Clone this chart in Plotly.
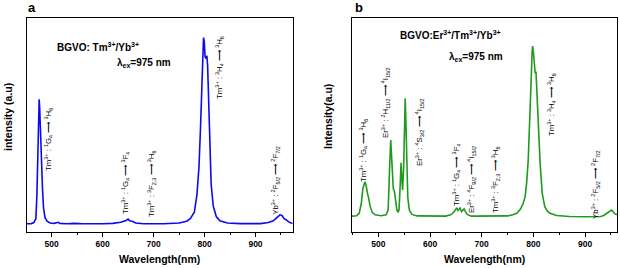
import plotly.graph_objects as go

# ---- data (wavelength nm, intensity a.u.) ----
wl_a = [451, 460, 465, 469, 471, 473, 474.5, 475.5, 476.5, 478, 480, 482, 484, 487, 491, 497,
        505, 510, 513, 516, 530, 545, 550, 560, 600, 620, 635, 645, 650, 653, 658, 665, 680,
        720, 750, 765, 772, 780, 785, 789, 792, 795, 797, 798, 799.5, 801, 803, 804.5, 806,
        808, 810, 813, 817, 823, 830, 845, 870, 910, 925, 935, 942, 948, 952, 956, 960, 965, 970, 973]
int_a = [0.036, 0.037, 0.042, 0.06, 0.17, 0.42, 0.58, 0.619, 0.58, 0.46, 0.33, 0.2, 0.11, 0.065, 0.048, 0.04,
         0.038, 0.04, 0.043, 0.038, 0.036, 0.038, 0.037, 0.036, 0.036, 0.038, 0.043, 0.05, 0.058, 0.05, 0.048, 0.04, 0.036,
         0.036, 0.04, 0.048, 0.06, 0.09, 0.17, 0.3, 0.48, 0.72, 0.87, 0.908, 0.89, 0.82, 0.81, 0.823, 0.78,
         0.6, 0.42, 0.22, 0.12, 0.07, 0.05, 0.04, 0.037, 0.037, 0.042, 0.05, 0.065, 0.078, 0.075, 0.06, 0.055, 0.045, 0.04, 0.038]

wl_b = [449, 458, 463, 467, 470, 472, 474, 476, 477, 479, 481, 484, 488, 494, 505, 515, 519, 521, 522.5,
        524, 525.5, 527, 529, 531, 533, 536, 538, 540, 542, 544, 545.5, 547, 549, 550.5, 552, 553.5,
        555, 557, 560, 565, 575, 600, 630, 640, 646, 650, 652, 654, 656, 658, 661, 664, 666, 668, 672,
        680, 720, 750, 760, 768, 775, 780, 784, 787, 790, 793, 795.5, 797.5, 798.6, 800, 802, 803.5,
        805, 807, 810, 813, 817, 822, 827, 832, 845, 870, 900, 930, 936, 942, 947, 951, 955, 958, 962]
int_b = [0.072, 0.074, 0.085, 0.13, 0.2, 0.225, 0.233, 0.22, 0.2, 0.18, 0.16, 0.12, 0.09, 0.078, 0.074, 0.078, 0.1, 0.2, 0.34,
         0.428, 0.36, 0.24, 0.2, 0.19, 0.14, 0.1, 0.092, 0.1, 0.2, 0.322, 0.25, 0.194, 0.3, 0.5, 0.624, 0.5,
         0.3, 0.16, 0.1, 0.08, 0.073, 0.071, 0.072, 0.078, 0.09, 0.105, 0.109, 0.098, 0.104, 0.11, 0.093, 0.1, 0.106, 0.095, 0.08,
         0.072, 0.071, 0.073, 0.078, 0.085, 0.105, 0.13, 0.163, 0.23, 0.335, 0.5, 0.7, 0.84, 0.869, 0.84, 0.76, 0.74,
         0.749, 0.65, 0.45, 0.32, 0.18, 0.116, 0.095, 0.085, 0.075, 0.07, 0.069, 0.07, 0.075, 0.085, 0.097, 0.1, 0.09, 0.082, 0.08]

tick_vals = [500, 600, 700, 800, 900]
tick_text = ["500", "600", "700", "800", "900"]

# annotation labels: (text, wavelength, intensity)
labels_a = [
    ("Tm<sup>3+</sup> : <sup>1</sup>G<sub>4</sub> ⟶ <sup>3</sup>H<sub>6</sub>", 492.7, 0.433),
    ("Tm<sup>3+</sup> : <sup>1</sup>G<sub>4</sub> ⟶ <sup>3</sup>F<sub>4</sub>", 643.7, 0.227),
    ("Tm<sup>3+</sup> : <sup>3</sup>F<sub>2,3</sub> ⟶ <sup>3</sup>H<sub>6</sub>", 694.7, 0.222),
    ("Tm<sup>3+</sup> : <sup>3</sup>H<sub>4</sub> ⟶ <sup>3</sup>H<sub>6</sub>", 828, 0.77),
    ("Yb<sup>3+</sup> : <sup>2</sup>F<sub>5/2</sub> ⟶ <sup>2</sup>F<sub>7/2</sub>", 939.8, 0.237),
]
labels_b = [
    ("Tm<sup>3+</sup> : <sup>1</sup>G<sub>4</sub> ⟶ <sup>3</sup>H<sub>6</sub>", 470.4, 0.377),
    ("Er<sup>3+</sup> : <sup>2</sup>H<sub>11/2</sub> ⟶ <sup>4</sup>I<sub>15/2</sub>", 514.9, 0.602),
    ("Er<sup>3+</sup> : <sup>4</sup>S<sub>3/2</sub> ⟶ <sup>4</sup>I<sub>15/2</sub>", 578.7, 0.466),
    ("Tm<sup>3+</sup> : <sup>1</sup>G<sub>4</sub> ⟶ <sup>3</sup>F<sub>4</sub>", 652.2, 0.265),
    ("Er<sup>3+</sup> : <sup>4</sup>F<sub>9/2</sub> ⟶ <sup>4</sup>I<sub>15/2</sub>", 681.2, 0.246),
    ("Tm<sup>3+</sup> : <sup>3</sup>F<sub>2,3</sub> ⟶ <sup>3</sup>H<sub>6</sub>", 725.7, 0.241),
    ("Tm<sup>3+</sup> : <sup>3</sup>H<sub>4</sub> ⟶ <sup>3</sup>H<sub>6</sub>", 834, 0.597),
    ("Yb<sup>3+</sup> : <sup>2</sup>F<sub>5/2</sub> ⟶ <sup>2</sup>F<sub>7/2</sub>", 921, 0.218),
]

FONT = "Liberation Sans, Arial, sans-serif"
W, H = 620, 268

fig = go.Figure()
fig.add_trace(go.Scatter(x=wl_a, y=int_a, mode="lines", line=dict(color="#0a0af0", width=1.6),
                         xaxis="x", yaxis="y", showlegend=False, hoverinfo="skip"))
fig.add_trace(go.Scatter(x=wl_b, y=int_b, mode="lines", line=dict(color="#1f9a1f", width=1.6),
                         xaxis="x2", yaxis="y2", showlegend=False, hoverinfo="skip"))

ytop = 1 - 18 / H
ybot = 1 - 231.5 / H

def xax(domain, rng):
    return dict(domain=domain, range=rng, showline=True, mirror=True, linecolor="black", linewidth=1.3,
                ticks="outside", ticklen=4, tickwidth=1, tickcolor="black",
                tickvals=tick_vals, ticktext=tick_text,
                tickfont=dict(family=FONT, size=8.5, color="black", weight="bold"),
                minor=dict(tickvals=[450, 550, 650, 750, 850, 950], ticks="outside", ticklen=2.5, tickcolor="black"),
                showgrid=False, zeroline=False, fixedrange=True)

def yax(anchor):
    return dict(domain=[ybot, ytop], range=[0, 1], anchor=anchor, showline=True, mirror=True,
                linecolor="black", linewidth=1.3, ticks="", showticklabels=False,
                showgrid=False, zeroline=False, fixedrange=True)

fig.update_layout(
    width=W, height=H, margin=dict(l=0, r=0, t=0, b=0),
    paper_bgcolor="white", plot_bgcolor="white",
    xaxis=dict(**xax([26.7 / W, 292.7 / W], [451, 973]), anchor="y"),
    yaxis=yax("x"),
    xaxis2=dict(**xax([351.7 / W, 617.3 / W], [448.5, 962.3]), anchor="y2"),
    yaxis2=yax("x2"),
)

ann = []
for (t, x, y) in labels_a:
    ann.append(dict(text=t, x=x, y=y, xref="x", yref="y", textangle=-90, showarrow=False,
                    xanchor="center", yanchor="middle", font=dict(family=FONT, size=7.8, color="black")))
for (t, x, y) in labels_b:
    ann.append(dict(text=t, x=x, y=y, xref="x2", yref="y2", textangle=-90, showarrow=False,
                    xanchor="center", yanchor="middle", font=dict(family=FONT, size=7.8, color="black")))

bold = dict(family=FONT, size=10, color="black")
ann += [
    dict(text="<b>BGVO: Tm<sup>3+</sup>/Yb<sup>3+</sup></b>", x=55 / W, y=1 - 46.7 / H, xref="paper", yref="paper",
         xanchor="left", yanchor="middle", showarrow=False, font=bold),
    dict(text="<b>λ<sub>ex</sub>=975 nm</b>", x=115 / W, y=1 - 63.3 / H, xref="paper", yref="paper",
         xanchor="left", yanchor="middle", showarrow=False, font=bold),
    dict(text="<b>BGVO:Er<sup>3+</sup>/Tm<sup>3+</sup>/Yb<sup>3+</sup></b>", x=398 / W, y=1 - 35 / H, xref="paper", yref="paper",
         xanchor="left", yanchor="middle", showarrow=False, font=bold),
    dict(text="<b>λ<sub>ex</sub>=975 nm</b>", x=447 / W, y=1 - 56.7 / H, xref="paper", yref="paper",
         xanchor="left", yanchor="middle", showarrow=False, font=bold),
    dict(text="<b>a</b>", x=32 / W, y=1 - 8 / H, xref="paper", yref="paper", xanchor="center", yanchor="middle",
         showarrow=False, font=dict(family=FONT, size=13, color="black")),
    dict(text="<b>b</b>", x=359 / W, y=1 - 8 / H, xref="paper", yref="paper", xanchor="center", yanchor="middle",
         showarrow=False, font=dict(family=FONT, size=13, color="black")),
    dict(text="<b>Wavelength(nm)</b>", x=159.7 / W, y=1 - 259 / H, xref="paper", yref="paper", xanchor="center",
         yanchor="middle", showarrow=False, font=dict(family=FONT, size=10.5, color="black")),
    dict(text="<b>Wavelength(nm)</b>", x=484.5 / W, y=1 - 259 / H, xref="paper", yref="paper", xanchor="center",
         yanchor="middle", showarrow=False, font=dict(family=FONT, size=10.5, color="black")),
    dict(text="<b>intensity (a.u)</b>", x=8 / W, y=1 - 117 / H, xref="paper", yref="paper", xanchor="center",
         yanchor="middle", textangle=-90, showarrow=False, font=dict(family=FONT, size=10.5, color="black")),
    dict(text="<b>Intensity(a.u)</b>", x=328 / W, y=1 - 117 / H, xref="paper", yref="paper", xanchor="center",
         yanchor="middle", textangle=-90, showarrow=False, font=dict(family=FONT, size=10.5, color="black")),
]
fig.update_layout(annotations=ann)

fig.write_html("out.html", config={"displayModeBar": False},
               post_script="document.body.style.margin='0';document.body.style.padding='0';document.body.style.overflow='hidden';")
